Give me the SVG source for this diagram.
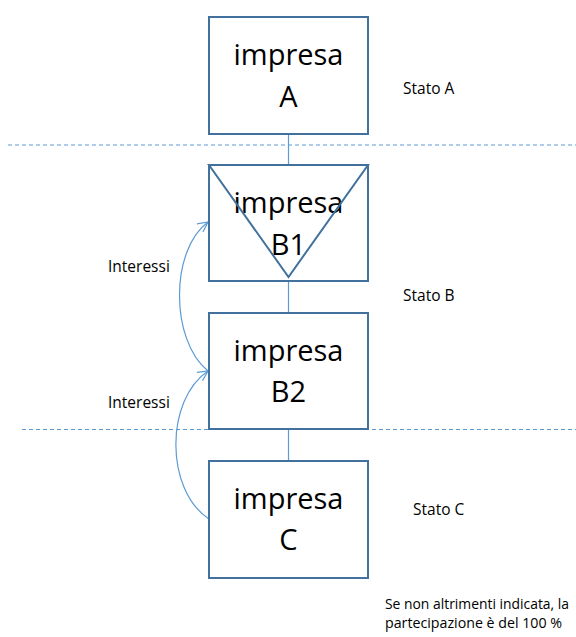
<svg xmlns="http://www.w3.org/2000/svg" width="576" height="637" viewBox="0 0 576 637">
<style>
.box{fill:#ffffff;stroke:#41719C;stroke-width:2}
.big{font-family:"Open Sans","Liberation Sans",sans-serif;font-size:29px;fill:#000;text-anchor:middle}
.small{font-family:"Open Sans","Liberation Sans",sans-serif;font-size:15.5px;fill:#000}
.note{font-family:"Open Sans","Liberation Sans",sans-serif;font-size:15px;fill:#000}
.link{fill:none;stroke:#5B9BD5;stroke-width:1.2}
.dash{fill:none;stroke:#5B9BD5;stroke-width:1;stroke-dasharray:4,3}
</style>
<defs>
<marker id="arr" viewBox="0 0 12 12" refX="11" refY="6" markerWidth="12" markerHeight="12" markerUnits="userSpaceOnUse" orient="auto">
<path d="M1,1 L11,6 L1,11" fill="none" stroke="#5B9BD5" stroke-width="1.2"/>
</marker>
</defs>
<g id="separators">
<line class="dash" x1="8" y1="145" x2="576" y2="145"/>
<line class="dash" x1="22" y1="429.5" x2="576" y2="429.5"/>
</g>
<g id="connectors">
<line class="link" x1="288.5" y1="134" x2="288.5" y2="165"/>
<line class="link" x1="288.5" y1="281" x2="288.5" y2="313"/>
<line class="link" x1="288.5" y1="429" x2="288.5" y2="461"/>
<path class="link" d="M208,371 C170,340 170,250 208,222" marker-end="url(#arr)"/>
<path class="link" d="M209,519 C165,490 165,400 208,371" marker-end="url(#arr)"/>
</g>
<g id="nodeA">
<rect class="box" x="209" y="17" width="159" height="117"/>
<text class="big" x="288.5" y="65">impresa</text>
<text class="big" x="288.5" y="107">A</text>
</g>
<g id="nodeB1">
<rect class="box" x="209" y="165" width="159" height="116"/>
<text class="big" x="288.5" y="213">impresa</text>
<text class="big" x="288.5" y="255">B1</text>
<polygon points="209,165 368,165 288.5,277" fill="none" stroke="#41719C" stroke-width="2" stroke-linejoin="miter"/>
</g>
<g id="nodeB2">
<rect class="box" x="209" y="313" width="159" height="116"/>
<text class="big" x="288.5" y="361">impresa</text>
<text class="big" x="288.5" y="402">B2</text>
</g>
<g id="nodeC">
<rect class="box" x="209" y="461" width="159" height="117"/>
<text class="big" x="288.5" y="509">impresa</text>
<text class="big" x="288.5" y="550">C</text>
</g>
<g id="labels">
<text class="small" x="403" y="94">Stato A</text>
<text class="small" x="403" y="301">Stato B</text>
<text class="small" x="413" y="515">Stato C</text>
<text class="small" x="108" y="272">Interessi</text>
<text class="small" x="108" y="408">Interessi</text>
<text class="note" x="385" y="609" textLength="184" lengthAdjust="spacingAndGlyphs">Se non altrimenti indicata, la</text>
<text class="note" x="385" y="628" textLength="177" lengthAdjust="spacingAndGlyphs">partecipazione è del 100 %</text>
</g>
</svg>
